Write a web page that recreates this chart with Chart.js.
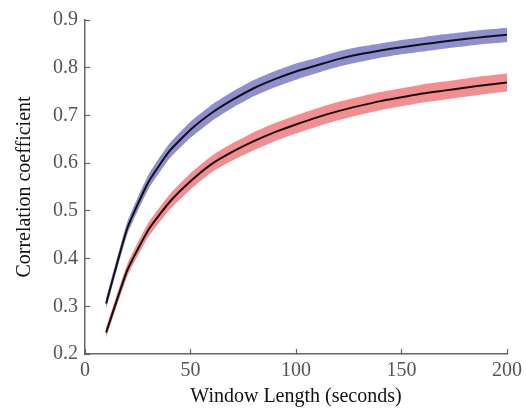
<!DOCTYPE html>
<html>
<head>
<meta charset="utf-8">
<script src="https://cdn.jsdelivr.net/npm/chart.js@4/dist/chart.umd.min.js"></script>
<style>
html,body{margin:0;padding:0;background:#fff;}
#wrap{width:526px;height:409px;}
</style>
</head>
<body>
<div id="wrap"><canvas id="c" width="526" height="409"></canvas></div>
<script>
const windowLengths = [10,20,30,40,50,60,70,80,90,100,110,120,130,140,150,160,170,180,190,200];
const blueMean  = [0.306,0.463,0.560,0.625,0.670,0.705,0.733,0.757,0.776,0.792,0.805,0.818,0.828,0.836,0.843,0.849,0.855,0.860,0.865,0.869];
const blueUpper = [0.316,0.476,0.575,0.641,0.687,0.722,0.750,0.774,0.793,0.809,0.821,0.834,0.844,0.851,0.858,0.864,0.870,0.875,0.880,0.884];
const blueLower = [0.295,0.450,0.545,0.609,0.653,0.688,0.716,0.740,0.759,0.775,0.789,0.802,0.812,0.821,0.828,0.834,0.840,0.845,0.850,0.854];
const redMean   = [0.245,0.375,0.460,0.518,0.562,0.598,0.624,0.646,0.665,0.681,0.696,0.709,0.720,0.730,0.738,0.746,0.752,0.758,0.764,0.769];
const redUpper  = [0.255,0.388,0.475,0.534,0.579,0.615,0.642,0.665,0.684,0.700,0.715,0.728,0.739,0.749,0.757,0.765,0.771,0.777,0.783,0.788];
const redLower  = [0.234,0.362,0.445,0.502,0.545,0.581,0.606,0.627,0.646,0.662,0.677,0.690,0.701,0.711,0.719,0.727,0.733,0.739,0.745,0.750];
const xTicks = [0,50,100,150,200];
const yTicks = [0.2,0.3,0.4,0.5,0.6,0.7,0.8,0.9];

const BLUE_BAND = 'rgb(141,143,207)';
const RED_BAND = 'rgb(244,141,144)';
const LINE = '#111111';
const AXIS = '#666666';
const FONT = "'Liberation Serif','Times New Roman',serif";

function pts(ys){ return windowLengths.map((x,i)=>({x:x,y:ys[i]})); }
function band(ys, color, fill){
  return {data:pts(ys), borderWidth:0, pointRadius:0, backgroundColor:color, borderColor:color, fill:fill, order:2, tension:0.15};
}
function line(ys){
  return {data:pts(ys), borderWidth:2, pointRadius:0, borderColor:LINE, fill:false, order:1, tension:0.15};
}

new Chart(document.getElementById('c'), {
  type:'line',
  data:{datasets:[
    band(blueUpper, BLUE_BAND, '+1'),
    band(blueLower, BLUE_BAND, false),
    band(redUpper, RED_BAND, '+1'),
    band(redLower, RED_BAND, false),
    line(blueMean),
    line(redMean)
  ]},
  options:{
    responsive:false,
    animation:false,
    events:[],
    layout:{padding:{left:0,right:19,top:20,bottom:0}},
    plugins:{legend:{display:false},tooltip:{enabled:false}},
    scales:{
      x:{
        type:'linear', min:0, max:200,
        afterBuildTicks:(s)=>{ s.ticks = xTicks.map(v=>({value:v})); },
        afterFit:(s)=>{ s.height = 55; s.paddingLeft = 0; s.paddingRight = 0; },
        grid:{drawOnChartArea:false, drawTicks:true, tickLength:-5, tickColor:AXIS, tickWidth:1.2},
        border:{display:true, color:AXIS, width:1.5},
        ticks:{color:'#555', font:{family:FONT,size:20}, padding:10, maxRotation:0, callback:(v)=>String(v)},
        title:{display:true, text:'Window Length (seconds)', color:'#111', font:{family:FONT,size:20}, padding:{top:0,bottom:0}}
      },
      y:{
        type:'linear', min:0.2, max:0.9,
        afterBuildTicks:(s)=>{ s.ticks = yTicks.map(v=>({value:v})); },
        afterFit:(s)=>{ s.width = 85; s.paddingTop = 0; s.paddingBottom = 0; },
        grid:{drawOnChartArea:false, drawTicks:true, tickLength:-5, tickColor:AXIS, tickWidth:1.2},
        border:{display:true, color:AXIS, width:1.5},
        ticks:{color:'#555', font:{family:FONT,size:20}, padding:12, callback:(v)=>Number(v).toFixed(1)},
        title:{display:true, text:'Correlation coefficient', color:'#111', font:{family:FONT,size:20}, padding:{top:13,bottom:0}}
      }
    }
  }
});
</script>
</body>
</html>
